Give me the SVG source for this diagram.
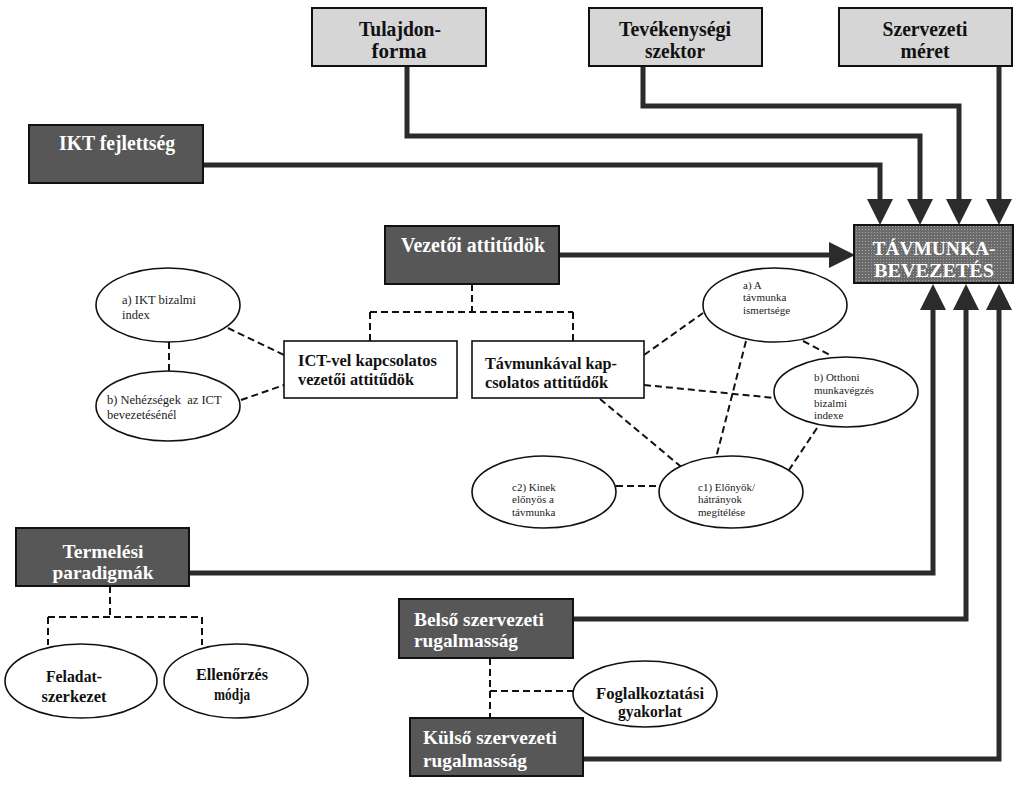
<svg xmlns="http://www.w3.org/2000/svg" width="1023" height="788" viewBox="0 0 1023 788">
<style>
text{font-family:"Liberation Serif","Times New Roman",serif;}
.lbox{fill:#d6d6d6;stroke:#111;stroke-width:2;}
.dbox{fill:#575757;stroke:#111;stroke-width:2;}
.wbox{fill:#fff;stroke:#111;stroke-width:1.6;}
.ell{fill:#fff;stroke:#111;stroke-width:1.6;}
.t22{font-size:21px;font-weight:bold;fill:#111;}
.w22{font-size:21px;font-weight:bold;fill:#fff;}
.w20{font-size:19.5px;font-weight:bold;fill:#fff;}
.b17{font-size:17px;font-weight:bold;fill:#111;}
.s12{font-size:12.5px;fill:#222;}
.s11{font-size:11px;fill:#222;}
.b16{font-size:16px;font-weight:bold;fill:#111;}
.thick{fill:none;stroke:#2b2b2b;stroke-width:5;stroke-linejoin:miter;}
.dash{fill:none;stroke:#111;stroke-width:2;stroke-dasharray:7 4;}
</style>
<defs>
<marker id="arr" markerUnits="userSpaceOnUse" markerWidth="26" markerHeight="26" refX="0" refY="13" orient="auto">
<path d="M0,0 L26,13 L0,26 Z" fill="#2b2b2b"/>
</marker>
<pattern id="dots" width="3" height="3" patternUnits="userSpaceOnUse">
<rect width="3" height="3" fill="#6b6b6b"/>
<rect x="1" y="1" width="1" height="1" fill="#a8a8a8"/>
</pattern>
</defs>
<rect width="1023" height="788" fill="#fff"/>

<g id="connectors">
<path class="thick" d="M203,165 H880 V199" marker-end="url(#arr)"/>
<path class="thick" d="M407,66 V136 H920 V199" marker-end="url(#arr)"/>
<path class="thick" d="M643,66 V106 H959 V199" marker-end="url(#arr)"/>
<path class="thick" d="M999,66 V199" marker-end="url(#arr)"/>
<path class="thick" d="M559,255 H829" marker-end="url(#arr)"/>
<path class="thick" d="M189,573 H933 V310" marker-end="url(#arr)"/>
<path class="thick" d="M573,619 H966 V310" marker-end="url(#arr)"/>
<path class="thick" d="M583,759 H999 V310" marker-end="url(#arr)"/>
<path class="dash" d="M472,284 V312 M370,312 H573 M370,312 V341 M573,312 V341"/>
<path class="dash" d="M228,328 L284,355 M241,400 L284,385 M169,342 V371"/>
<path class="dash" d="M644,355 L703,313 M644,385 L775,398 M600,399 L685,470 M746,341 L716,458 M803,341 L832,356 M817,428 L789,470 M616,486 H659"/>
<path class="dash" d="M110,586 V617 M48,617 H202 M48,617 V645 M202,617 V645"/>
<path class="dash" d="M490,658 V718 M490,691 H573"/>
</g>

<g id="tulajdonforma">
<rect class="lbox" x="312" y="8" width="174" height="58"/>
<text class="t22" x="400" y="36" text-anchor="middle" textLength="82" lengthAdjust="spacingAndGlyphs">Tulajdon-</text>
<text class="t22" x="399" y="58" text-anchor="middle" textLength="55" lengthAdjust="spacingAndGlyphs">forma</text>
</g>
<g id="tevekenysegi-szektor">
<rect class="lbox" x="589" y="8" width="173" height="58"/>
<text class="t22" x="675" y="36" text-anchor="middle" textLength="112" lengthAdjust="spacingAndGlyphs">Tevékenységi</text>
<text class="t22" x="675" y="58" text-anchor="middle" textLength="60" lengthAdjust="spacingAndGlyphs">szektor</text>
</g>
<g id="szervezeti-meret">
<rect class="lbox" x="839" y="8" width="173" height="58"/>
<text class="t22" x="925" y="36" text-anchor="middle" textLength="85" lengthAdjust="spacingAndGlyphs">Szervezeti</text>
<text class="t22" x="925" y="58" text-anchor="middle" textLength="49" lengthAdjust="spacingAndGlyphs">méret</text>
</g>
<g id="ikt-fejlettseg">
<rect class="dbox" x="29" y="125" width="174" height="58"/>
<text class="w22" x="117" y="150" text-anchor="middle" textLength="116" lengthAdjust="spacingAndGlyphs">IKT fejlettség</text>
</g>
<g id="vezetoi-attitudok">
<rect class="dbox" x="385" y="226" width="174" height="58"/>
<text class="w22" x="473" y="252" text-anchor="middle" textLength="144" lengthAdjust="spacingAndGlyphs">Vezetői attitűdök</text>
</g>
<g id="tavmunka-bevezetes">
<rect x="854" y="225" width="159" height="58" fill="url(#dots)" stroke="#111" stroke-width="2"/>
<text class="w20" x="934" y="255" text-anchor="middle" textLength="123" lengthAdjust="spacingAndGlyphs">TÁVMUNKA-</text>
<text class="w20" x="934" y="277" text-anchor="middle" textLength="120" lengthAdjust="spacingAndGlyphs">BEVEZETÉS</text>
</g>
<g id="ict-attitudok">
<rect class="wbox" x="284" y="341" width="173" height="57"/>
<text class="b17" x="298" y="366" textLength="139" lengthAdjust="spacingAndGlyphs">ICT-vel kapcsolatos</text>
<text class="b17" x="298" y="385" textLength="116" lengthAdjust="spacingAndGlyphs">vezetői attitűdök</text>
</g>
<g id="tavmunka-attitudok">
<rect class="wbox" x="472" y="341" width="172" height="57"/>
<text class="b17" x="485" y="369" textLength="132" lengthAdjust="spacingAndGlyphs">Távmunkával kap-</text>
<text class="b17" x="485" y="388" textLength="123" lengthAdjust="spacingAndGlyphs">csolatos attitűdők</text>
</g>
<g id="ikt-bizalmi-index">
<ellipse class="ell" cx="168" cy="305" rx="72" ry="37"/>
<text class="s12" x="122" y="304">a) IKT bizalmi</text>
<text class="s12" x="122" y="319">index</text>
</g>
<g id="nehezsegek">
<ellipse class="ell" cx="168" cy="406" rx="72" ry="35"/>
<text class="s12" x="107" y="404" xml:space="preserve">b) Nehézségek  az ICT</text>
<text class="s12" x="107" y="419">bevezetésénél</text>
</g>
<g id="tavmunka-ismertsege">
<ellipse class="ell" cx="775" cy="305" rx="72" ry="37"/>
<text class="s11" x="743" y="289">a) A</text>
<text class="s11" x="743" y="301">távmunka</text>
<text class="s11" x="743" y="314">ismertsége</text>
</g>
<g id="otthoni-munkavegzes">
<ellipse class="ell" cx="846" cy="392" rx="72" ry="35"/>
<text class="s11" x="814" y="381">b) Otthoni</text>
<text class="s11" x="814" y="394">munkavégzés</text>
<text class="s11" x="814" y="407">bizalmi</text>
<text class="s11" x="814" y="419">indexe</text>
</g>
<g id="elonyok-hatranyok">
<ellipse class="ell" cx="731" cy="492" rx="72" ry="36"/>
<text class="s11" x="698" y="491">c1) Előnyök/</text>
<text class="s11" x="698" y="503">hátrányok</text>
<text class="s11" x="698" y="516">megítélése</text>
</g>
<g id="kinek-elonyos">
<ellipse class="ell" cx="544" cy="492" rx="72" ry="36"/>
<text class="s11" x="512" y="491">c2) Kinek</text>
<text class="s11" x="512" y="503">előnyös a</text>
<text class="s11" x="512" y="516">távmunka</text>
</g>
<g id="termelesi-paradigmak">
<rect class="dbox" x="16" y="528" width="173" height="58"/>
<text class="w20" x="103" y="558" text-anchor="middle" textLength="81" lengthAdjust="spacingAndGlyphs">Termelési</text>
<text class="w20" x="103" y="579" text-anchor="middle" textLength="101" lengthAdjust="spacingAndGlyphs">paradigmák</text>
</g>
<g id="feladatszerkezet">
<ellipse class="ell" cx="81" cy="681" rx="76" ry="37"/>
<text class="b16" x="74" y="682" text-anchor="middle" textLength="56" lengthAdjust="spacingAndGlyphs">Feladat-</text>
<text class="b16" x="74" y="702" text-anchor="middle" textLength="65" lengthAdjust="spacingAndGlyphs">szerkezet</text>
</g>
<g id="ellenorzes-modja">
<ellipse class="ell" cx="236" cy="681" rx="72" ry="37"/>
<text class="b16" x="232" y="680" text-anchor="middle" textLength="72" lengthAdjust="spacingAndGlyphs">Ellenőrzés</text>
<text class="b16" x="232" y="700" text-anchor="middle" textLength="36" lengthAdjust="spacingAndGlyphs">módja</text>
</g>
<g id="belso-rugalmassag">
<rect class="dbox" x="399" y="599" width="174" height="59"/>
<text class="w20" x="414" y="626" textLength="130" lengthAdjust="spacingAndGlyphs">Belső szervezeti</text>
<text class="w20" x="414" y="647" textLength="104" lengthAdjust="spacingAndGlyphs">rugalmasság</text>
</g>
<g id="foglalkoztatasi-gyakorlat">
<ellipse class="ell" cx="645" cy="694" rx="72" ry="33"/>
<text class="b16" x="650" y="699" text-anchor="middle" textLength="108" lengthAdjust="spacingAndGlyphs">Foglalkoztatási</text>
<text class="b16" x="650" y="717" text-anchor="middle" textLength="64" lengthAdjust="spacingAndGlyphs">gyakorlat</text>
</g>
<g id="kulso-rugalmassag">
<rect class="dbox" x="410" y="718" width="173" height="58"/>
<text class="w20" x="423" y="744" textLength="134" lengthAdjust="spacingAndGlyphs">Külső szervezeti</text>
<text class="w20" x="423" y="767" textLength="104" lengthAdjust="spacingAndGlyphs">rugalmasság</text>
</g>
</svg>
